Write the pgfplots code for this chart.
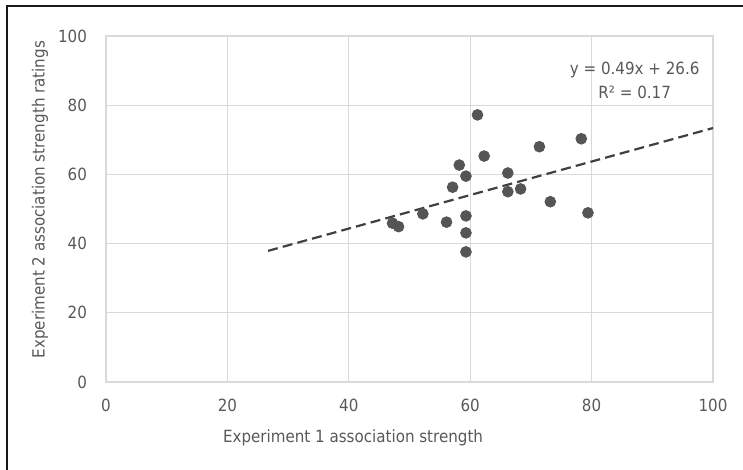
\documentclass[border=0pt]{standalone}
\usepackage{fontspec}
\setmainfont{DejaVu Sans Condensed}
\usepackage{pgfplots}
\pgfplotsset{compat=1.18}
\definecolor{txtgray}{HTML}{595959}
\definecolor{gridgray}{HTML}{D9D9D9}
\definecolor{markgray}{HTML}{555555}
\definecolor{linegray}{HTML}{404040}
\newcommand{\chartfont}{\fontsize{8.4pt}{10pt}\selectfont}
\begin{document}
\begin{tikzpicture}
\begin{axis}[
    at={(53pt,44pt)}, anchor=south west,
    scale only axis,
    width=303.5pt, height=173pt,
    xmin=0, xmax=100, ymin=0, ymax=100,
    xtick={0,20,...,100}, ytick={0,20,...,100},
    xmajorgrids, ymajorgrids,
    grid style={gridgray, line width=0.6pt},
    axis line style={gridgray, line width=0.6pt},
    major tick length=0pt,
    tick label style={font=\chartfont, text=txtgray},
    /pgf/number format/assume math mode=true,
    xticklabel style={yshift=-5pt},
    yticklabel style={xshift=-6pt},
    xlabel={Experiment 1 association strength},
    ylabel={Experiment 2 association strength ratings},
    every axis x label/.style={at={(axis description cs:0.407,0)}, anchor=center, yshift=-28pt, font=\chartfont, text=txtgray},
    every axis y label/.style={at={(axis description cs:0,0.527)}, xshift=-33pt, rotate=90, anchor=center, font=\chartfont, text=txtgray},
    clip=false,
]
% scatter points
\addplot[only marks, mark=*, mark size=2.7pt, color=markgray] coordinates {
    (61.2,77.2) (78.3,70.3) (71.4,68.0) (62.3,65.3) (58.2,62.7)
    (59.3,59.5) (66.2,60.4) (57.1,56.3) (66.2,55.0) (68.3,55.8)
    (73.2,52.1) (79.4,48.9) (52.2,48.6) (56.1,46.2) (59.3,48.0)
    (59.3,43.1) (59.3,37.6) (47.2,45.9) (48.2,44.9)
};
% linear trendline
\addplot[linegray, line width=1.1pt, dash pattern=on 5pt off 2.6pt] coordinates {
    (26.7,37.9) (100,73.4)
};
\node[align=center, font=\chartfont, text=txtgray, inner sep=0pt] at (axis cs:87.1,87.3)
    {y = 0.49x + 26.6\\[2pt]R² = 0.17};
\end{axis}
\draw[black!90, line width=1.2pt] (3.5pt,0pt) -- (3.5pt,232pt) -- (371.5pt,232pt);
\pgfresetboundingbox
\useasboundingbox (0pt,0pt) rectangle (371.5pt,235pt);
\end{tikzpicture}
\end{document}
